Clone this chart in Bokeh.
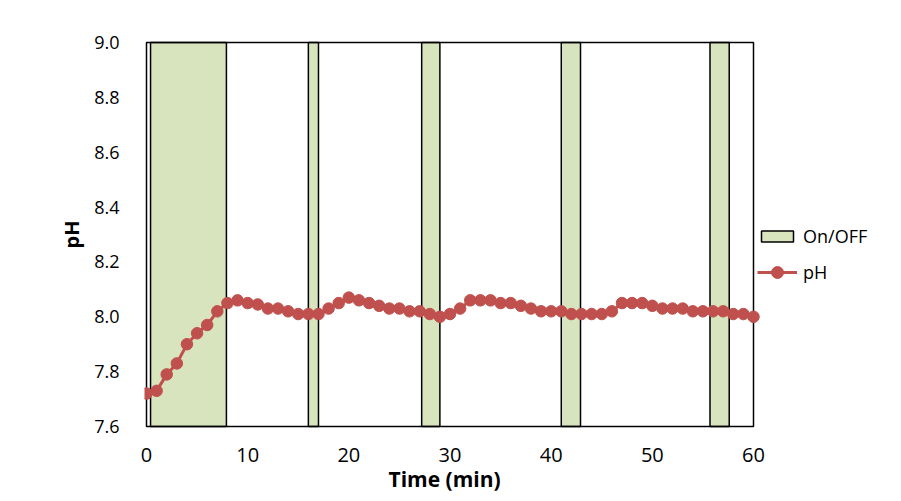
from bokeh.plotting import figure
from bokeh.models import Range1d, Legend, LegendItem, FixedTicker, ColumnDataSource, Title
from bokeh.embed import file_html
from bokeh.resources import INLINE

# --- data ---
time_min = list(range(0, 61))
ph = [7.72, 7.73, 7.79, 7.83, 7.90, 7.94, 7.97, 8.02, 8.05, 8.06,
      8.05, 8.045, 8.03, 8.03, 8.02, 8.01, 8.01, 8.01, 8.03, 8.05,
      8.07, 8.06, 8.05, 8.04, 8.03, 8.03, 8.02, 8.02, 8.01, 8.00,
      8.01, 8.03, 8.06, 8.06, 8.06, 8.05, 8.05, 8.04, 8.03, 8.02,
      8.02, 8.02, 8.01, 8.01, 8.01, 8.01, 8.02, 8.05, 8.05, 8.05,
      8.04, 8.03, 8.03, 8.03, 8.02, 8.02, 8.02, 8.02, 8.01, 8.01,
      8.00]
on_start = [0.4, 16.0, 27.2, 41.0, 55.7]
on_end = [7.9, 17.0, 29.0, 42.9, 57.6]
x_ticks = [0, 10, 20, 30, 40, 50, 60]
y_ticks = [7.6, 7.8, 8.0, 8.2, 8.4, 8.6, 8.8, 9.0]
x_min, x_max = 0, 60
y_min, y_max = 7.6, 9.0

FONT = "Open Sans"
GREEN = "#D7E4BD"
RED = "#C0504D"

# layout (pixels): plot box 607 x 384 starting at (146, 42); frame extends right to hold the legend
PLOT_W, PLOT_H, PAD = 607, 384, 2
FRAME_W = 901 - 146 + PAD
px_x = PLOT_W / (x_max - x_min)
px_y = PLOT_H / (y_max - y_min)
x0 = x_min - PAD / px_x

p = figure(frame_width=FRAME_W, frame_height=PLOT_H + 2 * PAD,
           output_backend="svg", toolbar_location=None,
           x_range=Range1d(x0, x0 + FRAME_W / px_x),
           y_range=Range1d(y_min - PAD / px_y, y_max + PAD / px_y),
           min_border_left=146 - PAD, min_border_right=0,
           min_border_top=42 - PAD, min_border_bottom=75 - PAD)
p.background_fill_color = "white"
p.border_fill_color = "white"
p.outline_line_color = None
p.xgrid.visible = False
p.ygrid.visible = False

bars_src = ColumnDataSource(dict(left=on_start, right=on_end,
                                 bottom=[y_min] * len(on_start), top=[y_max] * len(on_start)))
bars = p.quad(left="left", right="right", bottom="bottom", top="top", source=bars_src,
              fill_color=GREEN, line_color="black", line_width=1.5)

# plot-area border around the data range
p.quad(left=[x_min], right=[x_max], bottom=[y_min], top=[y_max],
       fill_color=None, line_color="black", line_width=1.5)

src = ColumnDataSource(dict(t=time_min, ph=ph))
ln = p.line("t", "ph", source=src, line_color=RED, line_width=3)
pts = p.scatter("t", "ph", source=src, marker="circle", size=11.5,
                fill_color=RED, line_color=RED)

for ax in (p.xaxis[0], p.yaxis[0]):
    ax.major_tick_in = 0
    ax.major_tick_out = 0
    ax.minor_tick_line_color = None
    ax.axis_line_color = None
    ax.major_label_text_font = FONT
    ax.major_label_text_color = "black"
    ax.axis_label_text_font = FONT
    ax.axis_label_text_font_size = "20px"
    ax.axis_label_text_font_style = "bold"
    ax.axis_label_text_color = "black"

p.xaxis.bounds = (x_min, x_max)
p.yaxis.bounds = (y_min, y_max)
p.xaxis.major_label_text_font_size = "20px"
p.yaxis.major_label_text_font_size = "18px"
p.xaxis.ticker = FixedTicker(ticks=x_ticks)
p.yaxis.ticker = FixedTicker(ticks=y_ticks)
p.yaxis.major_label_overrides = {v: f"{v:.1f}" for v in y_ticks}
p.yaxis.axis_label = "pH"
p.xaxis.major_label_standoff = 19
p.yaxis.major_label_standoff = 25
p.yaxis.axis_label_standoff = 6

# x-axis title, placed under the 0-60 plot box
xtitle = Title(text="Time (min)", align="left", offset=244, standoff=-4,
               text_font=FONT, text_font_size="21px", text_font_style="bold",
               text_color="black")
p.add_layout(xtitle, "below")

common = dict(orientation="vertical", glyph_width=40, padding=0, margin=0, label_standoff=6,
              border_line_alpha=0, background_fill_alpha=0,
              label_text_font=FONT, label_text_font_size="18px", label_text_color="black")
legend1 = Legend(items=[LegendItem(label="On/OFF", renderers=[bars])],
                 location=(613, 180), glyph_height=14, label_height=24, **common)
legend2 = Legend(items=[LegendItem(label="pH", renderers=[ln, pts])],
                 location=(613, 141), glyph_height=30, label_height=30, **common)
p.add_layout(legend1, "center")
p.add_layout(legend2, "center")

open("out.html", "w").write(file_html(p, INLINE))
